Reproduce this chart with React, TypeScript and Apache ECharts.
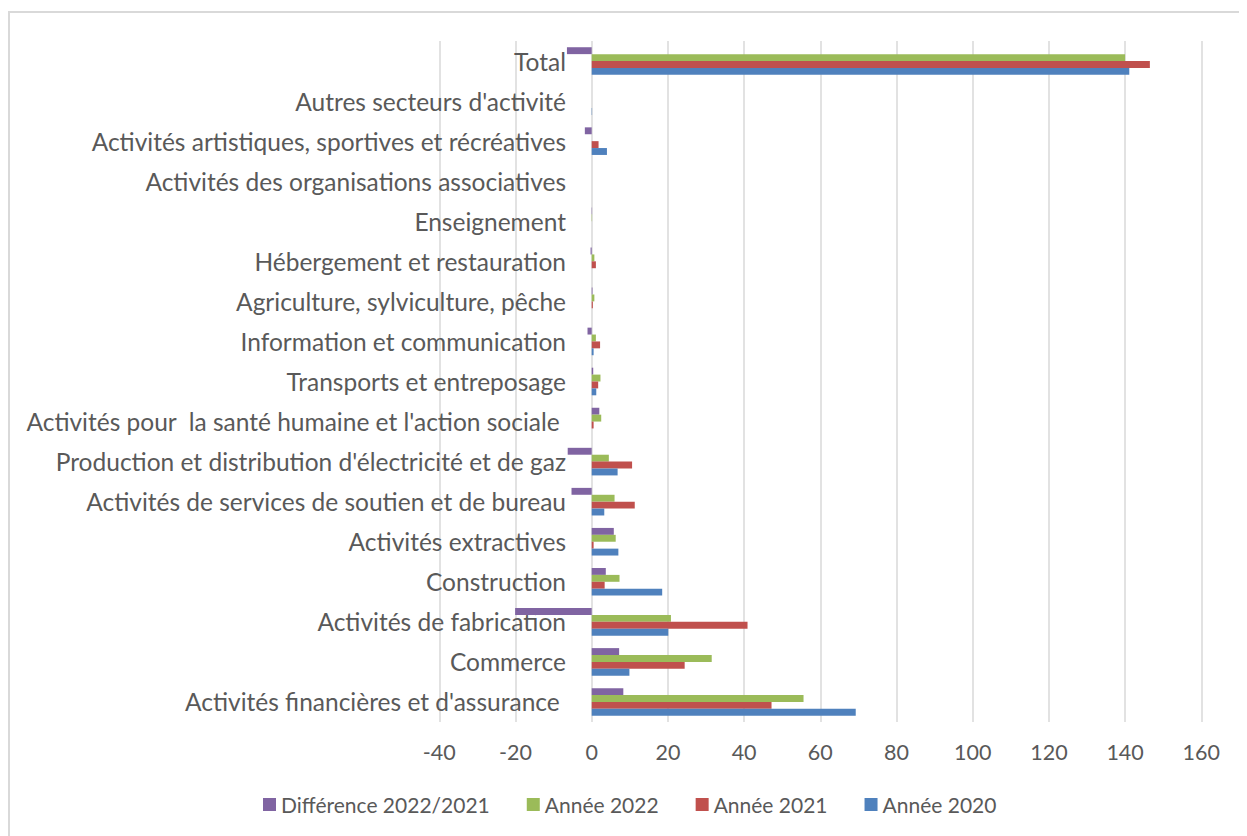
import React, { useEffect, useRef } from "react";
import * as echarts from "echarts";

const categories = [
  "Activités financières et d'assurance ",
  "Commerce",
  "Activités de fabrication",
  "Construction",
  "Activités extractives",
  "Activités de services de soutien et de bureau",
  "Production et distribution d'électricité et de gaz",
  "Activités pour  la santé humaine et l'action sociale ",
  "Transports et entreposage",
  "Information et communication",
  "Agriculture, sylviculture, pêche",
  "Hébergement et restauration",
  "Enseignement",
  "Activités des organisations associatives",
  "Activités artistiques, sportives et récréatives",
  "Autres secteurs d'activité",
  "Total",
];

const diff2022_2021 = [8.3, 7.2, -20.1, 3.7, 5.8, -5.3, -6.3, 2.0, 0.4, -1.1, 0.2, -0.3, 0.1, 0, -1.8, 0, -6.5];
const annee2022 = [55.6, 31.5, 20.8, 7.3, 6.3, 6.0, 4.5, 2.5, 2.3, 1.1, 0.7, 0.7, 0.1, 0, 0, 0, 140];
const annee2021 = [47.2, 24.4, 40.9, 3.4, 0.5, 11.3, 10.6, 0.5, 1.7, 2.2, 0.3, 1.1, 0, 0, 1.8, 0, 146.5];
const annee2020 = [69.3, 9.9, 20.1, 18.5, 7.0, 3.3, 6.8, 0, 1.2, 0.5, 0, 0, 0, 0, 4.0, 0.1, 141.1];

const xTicks = { min: -40, max: 160, interval: 20 };

const seriesNames = ["Différence 2022/2021", "Année 2022", "Année 2021", "Année 2020"];
const seriesColors = ["#8064A2", "#9BBB59", "#C0504D", "#4F81BD"];

export default function App() {
  const ref = useRef<HTMLDivElement>(null);
  useEffect(() => {
    if (!ref.current) return;
    const chart = echarts.init(ref.current, undefined, { renderer: "svg" });
    const dataSets = [diff2022_2021, annee2022, annee2021, annee2020];
    const font = "Lato, 'Open Sans', sans-serif";
    chart.setOption({
      animation: false,
      textStyle: { fontFamily: font },
      graphic: [
        {
          type: "rect",
          shape: { x: 1, y: 4, width: 3000, height: 3000 },
          style: { fill: "none", stroke: "#d9d9d9", lineWidth: 2 },
          silent: true,
        },
      ],
      grid: { left: 431.3, right: 45.7, top: 33, bottom: 114, outerBoundsMode: "none" },
      legend: {
        data: seriesNames,
        left: 250,
        top: 781,
        itemWidth: 13,
        itemHeight: 13,
        itemGap: 37,
        icon: "rect",
        textStyle: { color: "#595959", fontSize: 21, fontFamily: font },
      },
      xAxis: {
        type: "value",
        min: xTicks.min,
        max: xTicks.max,
        interval: xTicks.interval,
        axisLine: { show: false },
        axisTick: { show: false },
        splitLine: { show: true, lineStyle: { color: "#d9d9d9", width: 1.5 } },
        axisLabel: { color: "#595959", fontSize: 21.5, margin: 19, fontFamily: font },
      },
      yAxis: {
        type: "category",
        data: categories,
        axisLine: { show: false },
        axisTick: { show: false },
        splitLine: { show: false },
        axisLabel: { color: "#595959", fontSize: 24.5, margin: -126.7, fontFamily: font, interval: 0 },
      },
      series: seriesNames.map((name, i) => ({
        name,
        type: "bar",
        data: dataSets[i],
        barWidth: 6.9,
        barGap: "0%",
        itemStyle: { color: seriesColors[i] },
      })),
    });
    return () => chart.dispose();
  }, []);
  return <div ref={ref} style={{ width: 1239, height: 828 }} />;
}
